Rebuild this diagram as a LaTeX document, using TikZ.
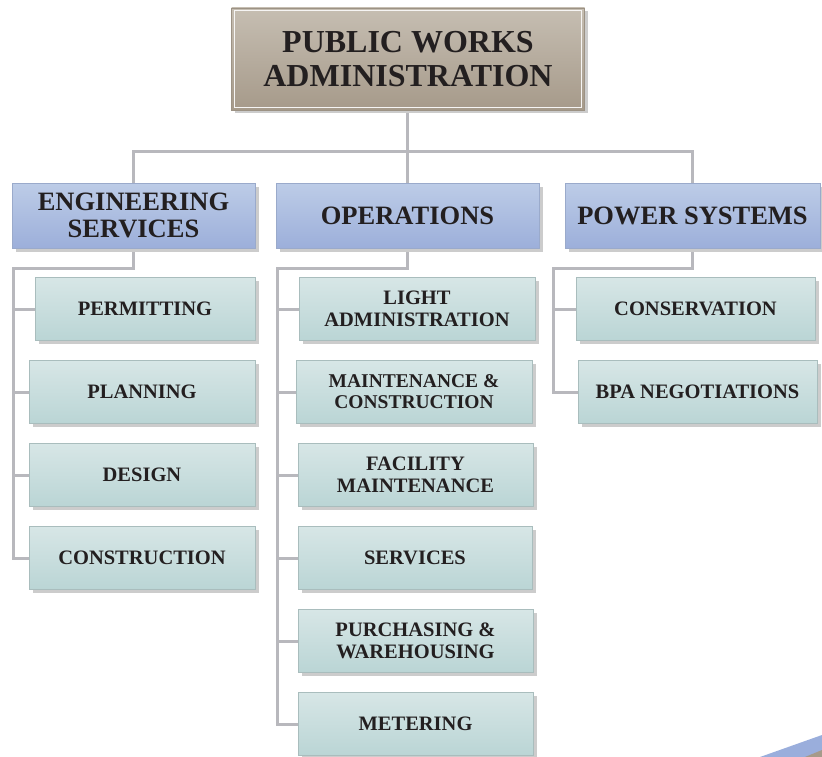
\documentclass[tikz,border=0pt]{standalone}
\usepackage{fontspec}
\setmainfont{Liberation Serif}
\usetikzlibrary{shadows,backgrounds}

\definecolor{inkdark}{HTML}{231F20}
\definecolor{linegray}{HTML}{B8B8BD}
\definecolor{taupetop}{HTML}{C6BEB2}
\definecolor{taupebot}{HTML}{A69A8A}
\definecolor{taupeedge}{HTML}{9C9284}
\definecolor{bluetop}{HTML}{BDCCE7}
\definecolor{bluebot}{HTML}{9CAFDA}
\definecolor{blueedge}{HTML}{9AAACB}
\definecolor{tealtop}{HTML}{D7E6E6}
\definecolor{tealbot}{HTML}{BAD5D5}
\definecolor{tealedge}{HTML}{A9BDBD}
\definecolor{wedgeblue}{HTML}{9AAEDC}

\tikzset{
  boxbase/.style={rectangle, align=center, text=inkdark, font=\bfseries,
    inner sep=2pt, line width=0.8pt,
    general shadow={fill=black!20, shadow xshift=3.5pt, shadow yshift=-3.5pt}},
  headbox/.style={boxbase, draw=taupeedge, top color=taupetop, bottom color=taupebot,
    font=\bfseries\fontsize{32}{34}\selectfont},
  deptbox/.style={boxbase, draw=blueedge, top color=bluetop, bottom color=bluebot,
    minimum height=65pt, font=\bfseries\fontsize{26.5}{26.5}\selectfont},
  unitbox/.style={boxbase, draw=tealedge, top color=tealtop, bottom color=tealbot,
    minimum height=63pt, font=\bfseries\fontsize{20.5}{22}\selectfont},
  conn/.style={draw=linegray, line width=3pt},
}

\begin{document}
\begin{tikzpicture}[x=1pt, y=-1pt]
\useasboundingbox (0,0) rectangle (822,757);

% top of the organisation
\node[headbox, minimum width=353pt, minimum height=102pt] (pwa) at (408,59)
  {PUBLIC WORKS\\ADMINISTRATION};
\draw[white!85!taupetop, line width=0.9pt]
  ([shift={(3,3)}]pwa.north west) rectangle ([shift={(-3,-3)}]pwa.south east);

% departments
\node[deptbox, minimum width=243pt] (es)  at (133.5,215.5) {ENGINEERING\\SERVICES};
\node[deptbox, minimum width=263pt] (ops) at (407.5,215.5) {OPERATIONS};
\node[deptbox, minimum width=255pt] (ps)  at (692.5,215.5) {POWER SYSTEMS};

% engineering services units
\node[unitbox, minimum width=220pt] (perm)   at (145,309) {PERMITTING};
\node[unitbox, minimum width=226pt] (plan)   at (142,392) {PLANNING};
\node[unitbox, minimum width=226pt] (design) at (142,475) {DESIGN};
\node[unitbox, minimum width=226pt] (constr) at (142,558) {CONSTRUCTION};

% operations units
\node[unitbox, minimum width=236pt] (light) at (417,309) {LIGHT\\ADMINISTRATION};
\node[unitbox, minimum width=236pt, font=\bfseries\fontsize{19.5}{21}\selectfont]
  (maint) at (414,392) {MAINTENANCE \&\\CONSTRUCTION};
\node[unitbox, minimum width=235pt] (facil) at (415.5,475) {FACILITY\\MAINTENANCE};
\node[unitbox, minimum width=234pt] (serv)  at (415,558) {SERVICES};
\node[unitbox, minimum width=235pt] (purch) at (415.5,641) {PURCHASING \&\\WAREHOUSING};
\node[unitbox, minimum width=235pt] (meter) at (415.5,724) {METERING};

% power systems units
\node[unitbox, minimum width=239pt] (cons) at (695.5,309) {CONSERVATION};
\node[unitbox, minimum width=239pt] (bpa)  at (697.5,392) {BPA NEGOTIATIONS};

% bus coordinates
\coordinate (topbus) at (0,152);
\coordinate (esbus)  at (13,268);
\coordinate (opsbus) at (277,268);
\coordinate (psbus)  at (553,268);

\begin{pgfonlayer}{background}
% administration to departments
\draw[conn] (pwa.south -| ops.north) -- (ops.north);
\draw[conn] (es.north) |- (ps.north |- topbus) -- (ps.north);

% engineering services tree
\draw[conn] (es.south) |- (esbus) -- (esbus |- constr.west) -- (constr.west);
\draw[conn] (esbus |- perm.west) -- (perm.west);
\draw[conn] (esbus |- plan.west) -- (plan.west);
\draw[conn] (esbus |- design.west) -- (design.west);

% operations tree
\draw[conn] (ops.south) |- (opsbus) -- (opsbus |- meter.west) -- (meter.west);
\draw[conn] (opsbus |- light.west) -- (light.west);
\draw[conn] (opsbus |- maint.west) -- (maint.west);
\draw[conn] (opsbus |- facil.west) -- (facil.west);
\draw[conn] (opsbus |- serv.west) -- (serv.west);
\draw[conn] (opsbus |- purch.west) -- (purch.west);

% power systems tree
\draw[conn] (ps.south) |- (psbus) -- (psbus |- bpa.west) -- (bpa.west);
\draw[conn] (psbus |- cons.west) -- (cons.west);
\end{pgfonlayer}

% corner wedge
\fill[wedgeblue] (760,757) -- (822,735) -- (822,757) -- cycle;
\fill[taupebot] (805,757) -- (822,750) -- (822,757) -- cycle;
\end{tikzpicture}
\end{document}
